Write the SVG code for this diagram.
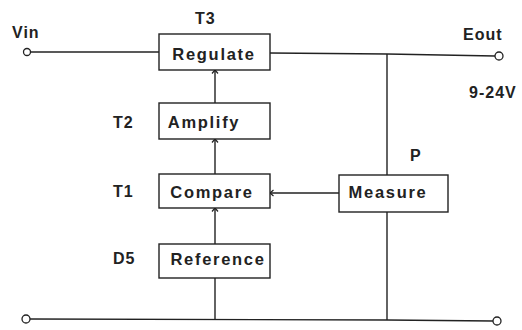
<svg xmlns="http://www.w3.org/2000/svg" width="522" height="330" viewBox="0 0 522 330">
  <style>
    .box { fill: #fff; stroke: #222; stroke-width: 1.4; }
    .wire { fill: none; stroke: #222; stroke-width: 1.4; }
    .term { fill: #fff; stroke: #222; stroke-width: 1.3; }
    .lbl { font-family: "Liberation Sans", Arial, sans-serif; font-size: 16.5px; font-weight: bold; fill: #222; letter-spacing: 1.7px; }
    .name { font-family: "Liberation Sans", Arial, sans-serif; font-size: 16px; font-weight: bold; fill: #222; letter-spacing: 1px; }
  </style>
  <defs>
    <marker id="arrow" viewBox="-5 -5 10 10" markerWidth="10" markerHeight="10" refX="0" refY="0" orient="auto" markerUnits="userSpaceOnUse">
      <path d="M-3.5,-3 L0,0 L-3.5,3" fill="none" stroke="#222" stroke-width="1.2"/>
    </marker>
  </defs>
  <rect width="522" height="330" fill="#fff"/>

  <g id="connectors">
    <!-- input rail into the regulator -->
    <line class="wire" x1="30" y1="52" x2="159" y2="52"/>
    <!-- output rail -->
    <polyline class="wire" points="270,53 387,54 495,56"/>
    <!-- common return rail -->
    <polyline class="wire" points="30,319 387,320 493,321"/>
    <!-- sense line down through the measuring stage -->
    <line class="wire" x1="387" y1="54" x2="387" y2="175"/>
    <line class="wire" x1="387" y1="212" x2="387" y2="320"/>
    <!-- signal chain -->
    <line class="wire" x1="215" y1="319" x2="215" y2="278"/>
    <line class="wire" x1="215" y1="244" x2="215" y2="208" marker-end="url(#arrow)"/>
    <line class="wire" x1="215" y1="174" x2="215" y2="139" marker-end="url(#arrow)"/>
    <line class="wire" x1="215" y1="103" x2="215" y2="70" marker-end="url(#arrow)"/>
    <line class="wire" x1="339" y1="193" x2="270" y2="193" marker-end="url(#arrow)"/>
  </g>

  <g id="vin">
    <circle class="term" cx="27" cy="52" r="3.5"/>
    <text class="name" x="12" y="38">Vin</text>
  </g>
  <g id="eout">
    <circle class="term" cx="499" cy="56" r="4"/>
    <text class="name" x="463" y="40">Eout</text>
    <text class="name" x="469" y="98">9-24V</text>
  </g>
  <g id="gnd-left">
    <circle class="term" cx="26" cy="319" r="4"/>
  </g>
  <g id="gnd-right">
    <circle class="term" cx="497" cy="321" r="4"/>
  </g>

  <g id="regulate">
    <rect class="box" x="159" y="34" width="111" height="36"/>
    <text class="lbl" x="214" y="60" text-anchor="middle">Regulate</text>
    <text class="name" x="195" y="24">T3</text>
  </g>
  <g id="amplify">
    <rect class="box" x="159" y="103" width="111" height="36"/>
    <text class="lbl" x="204" y="128" text-anchor="middle">Amplify</text>
    <text class="name" x="113" y="128">T2</text>
  </g>
  <g id="compare">
    <rect class="box" x="159" y="174" width="111" height="34"/>
    <text class="lbl" x="212" y="198" text-anchor="middle">Compare</text>
    <text class="name" x="113" y="197">T1</text>
  </g>
  <g id="reference">
    <rect class="box" x="159" y="244" width="111" height="34"/>
    <text class="lbl" x="218" y="265" text-anchor="middle">Reference</text>
    <text class="name" x="113" y="264">D5</text>
  </g>
  <g id="measure">
    <rect class="box" x="339" y="175" width="109" height="37"/>
    <text class="lbl" x="388" y="198" text-anchor="middle">Measure</text>
    <text class="name" x="410" y="161">P</text>
  </g>
</svg>
